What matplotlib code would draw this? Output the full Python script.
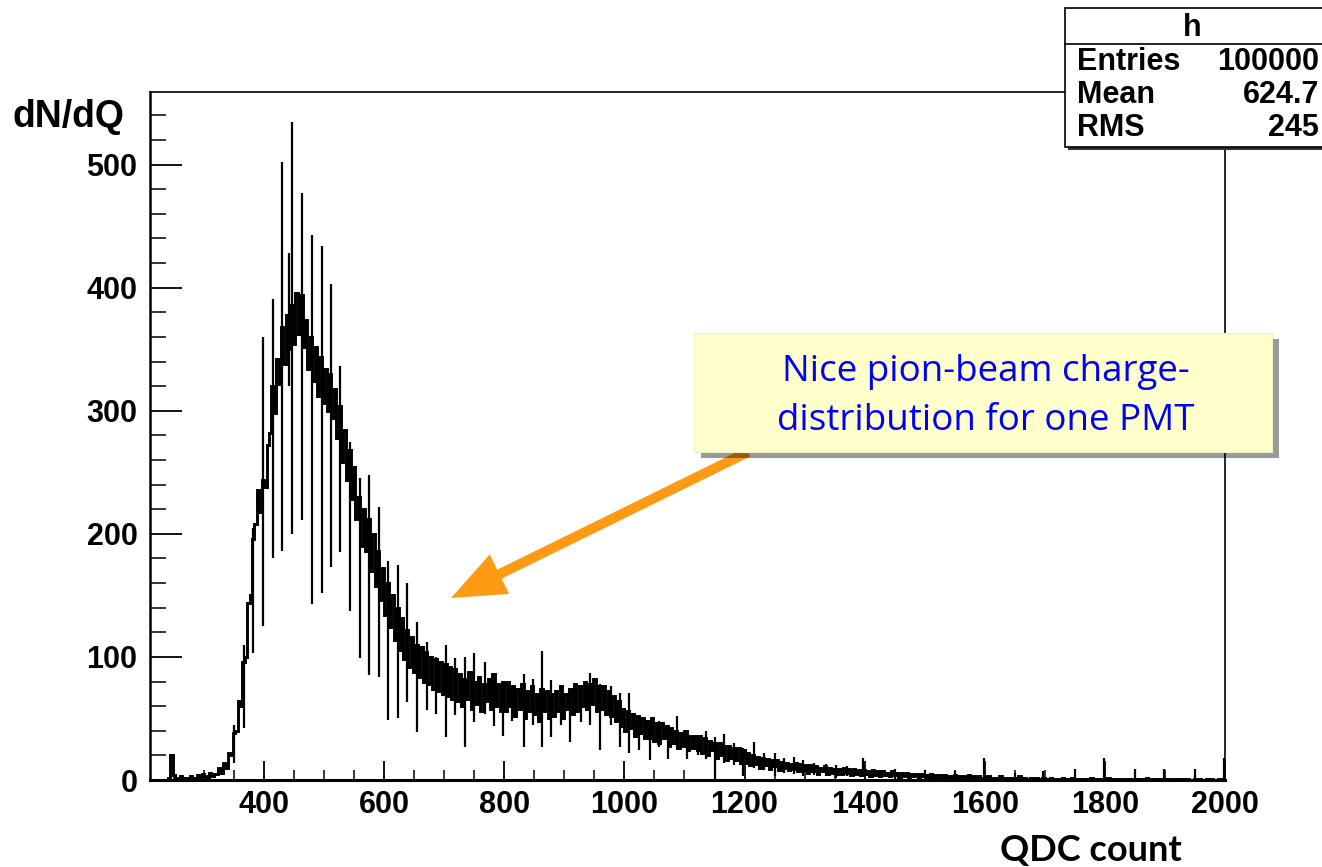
import matplotlib
matplotlib.use("Agg")
import matplotlib.pyplot as plt
import matplotlib.patches as mpatches
from matplotlib.ticker import MultipleLocator
from matplotlib.transforms import IdentityTransform
import numpy as np

# histogram: 4-unit QDC bins from 240 to 2000
q_start, q_step = 240, 4
counts = [
    2, 20, 4, 2, 1, 3, 2, 1, 2, 3, 1, 2, 4, 2, 5, 3, 2, 6, 3, 5,                                  # 240
    5, 10, 6, 14, 10, 22, 20, 38, 40, 64, 60, 96, 100, 144, 150, 196, 208, 236, 218, 244,         # 320
    238, 272, 282, 320, 298, 342, 322, 368, 338, 378, 350, 386, 354, 396, 362, 394, 352, 374, 334, 360,  # 400
    324, 352, 312, 344, 306, 334, 300, 330, 294, 318, 278, 304, 258, 284, 244, 268, 228, 254, 212, 230,  # 480
    190, 220, 186, 212, 170, 200, 158, 186, 146, 172, 134, 160, 124, 150, 114, 140, 106, 132, 98, 122,   # 560
    92, 116, 88, 110, 84, 108, 80, 104, 78, 100, 74, 98, 72, 96, 70, 94, 68, 92, 66, 90,          # 640
    64, 86, 60, 82, 66, 88, 58, 80, 62, 84, 56, 78, 64, 82, 58, 86, 60, 78, 56, 80,               # 720
    56, 80, 60, 76, 52, 74, 58, 78, 50, 72, 56, 76, 54, 70, 48, 74, 56, 72, 50, 70,               # 800
    52, 72, 56, 76, 50, 70, 58, 74, 54, 78, 56, 76, 60, 80, 58, 78, 62, 82, 56, 76,               # 880
    58, 76, 54, 72, 52, 68, 48, 64, 44, 58, 40, 56, 42, 54, 36, 52, 38, 50, 34, 48,               # 960
    34, 50, 32, 46, 30, 46, 34, 44, 28, 42, 30, 40, 26, 38, 28, 40, 24, 36, 26, 36,               # 1040
    24, 36, 22, 34, 20, 32, 24, 30, 18, 30, 20, 28, 16, 28, 18, 26, 16, 26, 14, 24,               # 1120
    14, 22, 12, 20, 13, 19, 10, 18, 12, 17, 9, 16, 11, 16, 8, 15, 10, 14, 8, 13,                  # 1200
    9, 14, 7, 13, 8, 12, 6, 12, 7, 11, 5, 10, 7, 11, 5, 10, 6, 9, 5, 9,                           # 1280
    5, 10, 6, 9, 4, 9, 5, 8, 4, 8, 5, 7, 3, 8, 4, 7, 3, 7, 4, 6,                                  # 1360
    3, 7, 4, 6, 2, 6, 3, 6, 2, 5, 3, 5, 2, 5, 3, 4, 2, 5, 2, 4,                                   # 1440
    2, 4, 1, 4, 2, 3, 1, 4, 2, 3, 1, 3, 2, 4, 1, 3, 2, 3, 1, 2,                                   # 1520
    2, 3, 1, 2, 2, 1, 3, 2, 1, 2, 1, 2, 2, 1, 3, 1, 2, 1, 1, 2,                                   # 1600
    1, 2, 1, 1, 2, 1, 1, 2, 1, 1, 0, 1, 2, 1, 1, 1, 2, 1, 0, 1,                                   # 1680
    1, 1, 0, 1, 2, 1, 1, 0, 1, 1, 1, 2, 1, 0, 1, 1, 0, 1, 1, 0,                                   # 1760
    1, 0, 1, 1, 0, 1, 1, 2, 0, 1, 0, 1, 1, 0, 1, 0, 1, 1, 0, 1,                                   # 1840
    0, 1, 0, 1, 1, 0, 0, 1, 0, 1, 0, 0, 1, 0, 1, 0, 0, 1, 0, 1,                                   # 1920
]

# single-channel spikes (QDC non-linearity): position, high and low value
spike_q = [350, 367, 382, 398, 415, 430, 441, 447, 463, 480, 497, 512, 527, 543, 560, 575,
           592, 607, 623, 638, 655, 672, 686, 703, 718, 735, 750, 767, 782, 798, 813, 832,
           848, 863, 878, 895, 910, 927, 943, 960, 977, 993, 1008, 1025, 1042, 1057, 1073,
           1088, 1105, 1122, 1135, 1150, 1165, 1182, 1198, 1215, 1232, 1250, 1266, 1283,
           1298, 1315, 1335, 1352, 1370, 1398, 1450, 1500, 1550, 1598, 1650, 1697, 1750,
           1798, 1850, 1898, 1950, 1998]
spike_hi = [45, 110, 205, 360, 391, 502, 428, 535, 477, 443, 434, 403, 336, 275, 245, 248,
            222, 178, 175, 160, 128, 112, 100, 110, 99, 100, 103, 96, 82, 78, 76, 86,
            82, 105, 81, 73, 70, 75, 87, 78, 76, 71, 71, 52, 49, 48, 44,
            52, 40, 33, 40, 35, 37, 30, 26, 31, 22, 22, 18, 19,
            16, 14, 13, 12, 11, 18, 9, 8, 7, 18, 6, 7, 9,
            18, 9, 9, 9, 18]
spike_lo = [14, 42, 103, 125, 180, 186, 320, 200, 211, 143, 152, 173, 185, 137, 99, 85,
            84, 49, 50, 63, 39, 57, 54, 35, 53, 27, 47, 54, 44, 36, 48, 27,
            45, 27, 35, 45, 31, 47, 45, 24, 45, 27, 22, 24, 16, 27, 17,
            27, 17, 20, 17, 1, 14, 12, 3, 10, 8, 3, 6, 5,
            3, 4, 3, 2, 3, 3, 1, 1, 0, 0, 0, 0, 0,
            0, 0, 0, 0, 0]

stats_rows = [("Entries", "100000"), ("Mean", "624.7"), ("RMS", "245")]
note_lines = ["Nice pion-beam charge-", "distribution for one PMT"]

W, H = 1322, 867
fig = plt.figure(figsize=(W / 100, H / 100), dpi=100)
ax = fig.add_axes([150 / W, 1 - 780 / H, (1225 - 150) / W, (780 - 92) / H])

edges = q_start + q_step * np.arange(len(counts) + 1)
ax.stairs(counts, edges, color="k", lw=2.1, baseline=0)
ax.vlines(spike_q, spike_lo, spike_hi, color="k", lw=1.6)

ax.set_xlim(210, 2000)
ax.set_ylim(0, 559)
ax.xaxis.set_major_locator(MultipleLocator(200))
ax.xaxis.set_minor_locator(MultipleLocator(50))
ax.yaxis.set_major_locator(MultipleLocator(100))
ax.yaxis.set_minor_locator(MultipleLocator(20))
ax.tick_params(axis="x", which="major", direction="in", length=14, width=1.3, pad=7)
ax.tick_params(axis="x", which="minor", direction="in", length=7, width=1.1)
ax.tick_params(axis="y", which="major", direction="in", length=23, width=1.3, pad=9)
ax.tick_params(axis="y", which="minor", direction="in", length=11.5, width=1.1)
for lab in ax.get_xticklabels() + ax.get_yticklabels():
    lab.set_family("Liberation Sans")
    lab.set_fontweight("bold")
    lab.set_fontsize(22)
for s in ax.spines.values():
    s.set_linewidth(1.2)
ax.spines["bottom"].set_linewidth(2.2)
ax.spines["left"].set_linewidth(1.8)

fig.text(12 / W, 1 - 117 / H, "dN/dQ", family="Liberation Sans", fontweight="bold",
         fontsize=27, ha="left", va="center")
fig.text(1091 / W, 1 - 850 / H, "QDC count", family="Lato", fontweight="bold",
         fontsize=26, ha="center", va="center")

# stats box (top right, clipped by the figure edge)
px = IdentityTransform()
fig.patches.append(mpatches.Rectangle((1068, H - 150), 270, 140, transform=px,
                                      facecolor="#333333", edgecolor="none", zorder=5))
fig.patches.append(mpatches.Rectangle((1065, H - 147), 270, 139, transform=px,
                                      facecolor="white", edgecolor="black", lw=1.2, zorder=6))
fig.lines.append(plt.Line2D([1065, 1335], [H - 44, H - 44], transform=px, color="k", lw=1.2, zorder=7))
fig.text(1192 / W, 1 - 28 / H, "h", family="Liberation Sans", fontweight="bold",
         fontsize=22, ha="center", va="center", zorder=8)
for i, (name, val) in enumerate(stats_rows):
    yy = 1 - (62 + 33 * i) / H
    fig.text(1077 / W, yy, name, family="Liberation Sans", fontweight="bold",
             fontsize=22, ha="left", va="center", zorder=8)
    fig.text(1319 / W, yy, val, family="Liberation Sans", fontweight="bold",
             fontsize=22, ha="right", va="center", zorder=8)

# annotation arrow and note box
orange = "#FF9A14"
fig.patches.append(mpatches.FancyArrow(748, H - 452, 451 - 748, (H - 598) - (H - 452), width=10,
                                       head_width=44, head_length=54, length_includes_head=True,
                                       transform=px, color=orange, lw=0, zorder=3))
fig.patches.append(mpatches.Rectangle((701, H - 458), 578, 119, transform=px,
                                      facecolor="#000000", alpha=0.4, edgecolor="none", zorder=4))
fig.patches.append(mpatches.Rectangle((694, H - 452), 578, 119, transform=px,
                                      facecolor="#FFFFCC", edgecolor="#F0F0C0", lw=0.8, zorder=5))
for i, line in enumerate(note_lines):
    fig.text(986 / W, 1 - (372 + 49 * i) / H, line, family="Open Sans", color="#0000FF",
             fontsize=26.5, ha="center", va="center", zorder=6)

fig.savefig("out.png", dpi=100)
